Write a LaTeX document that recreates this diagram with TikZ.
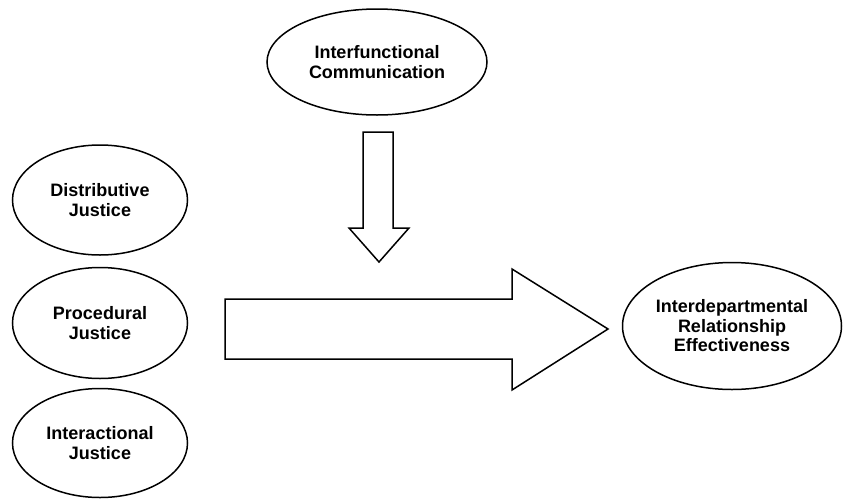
\documentclass[tikz,border=0pt]{standalone}
\usepackage{fontspec}
\setmainfont{Liberation Sans}
\usetikzlibrary{shapes.geometric}
\begin{document}
\begin{tikzpicture}[x=1pt,y=-1pt,
  oval/.style={ellipse, draw=black, line width=1.5pt, inner sep=0pt, align=center,
    font=\fontsize{18}{19.5}\selectfont\bfseries},
  fatarrow/.style={draw=black, line width=1.5pt, fill=white, line join=miter}]
\useasboundingbox (0,0) rectangle (844,499);
\node[oval, minimum width=220pt, minimum height=106pt] (ic) at (377,62) {Interfunctional\\Communication};
\node[oval, minimum width=175pt, minimum height=110pt] (dj) at (100,200) {Distributive\\Justice};
\node[oval, minimum width=175pt, minimum height=111pt] (pj) at (100,323) {Procedural\\Justice};
\node[oval, minimum width=175pt, minimum height=109pt] (ij) at (100,443) {Interactional\\Justice};
\node[oval, minimum width=219pt, minimum height=127pt] (ire) at (732,326) {Interdepartmental\\Relationship\\Effectiveness};
\draw[fatarrow] (363,132) -- (393,132) -- (393,228) -- (409,228) -- (379,262) -- (349,228) -- (363,228) -- cycle;
\draw[fatarrow] (225,299) -- (512,299) -- (512,269) -- (608,329) -- (512,390) -- (512,359) -- (225,359) -- cycle;
\end{tikzpicture}
\end{document}
